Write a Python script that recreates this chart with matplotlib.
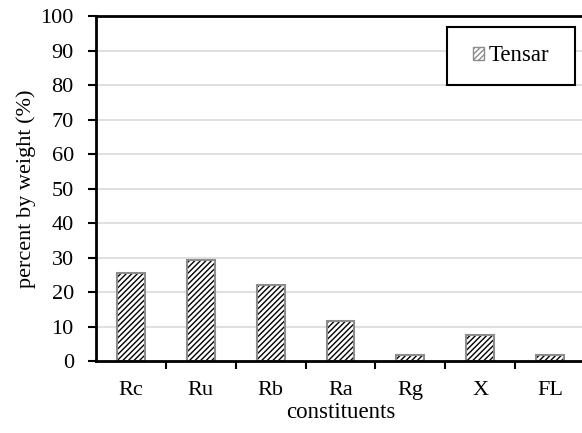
import matplotlib.pyplot as plt
from matplotlib.patches import Patch, Rectangle

categories = ["Rc", "Ru", "Rb", "Ra", "Rg", "X", "FL"]
tensar = [25.4, 29.2, 22.0, 11.7, 1.8, 7.5, 1.8]
yticks = list(range(0, 101, 10))

plt.rcParams["font.family"] = ["Liberation Serif", "DejaVu Serif"]
plt.rcParams["hatch.linewidth"] = 1.0

fig = plt.figure(figsize=(5.82, 4.33), dpi=100)
ax = fig.add_axes([0.165, 0.166, 0.84, 0.797])

x = list(range(len(categories)))
# hatch in black, outline in grey drawn separately
ax.bar(x, tensar, width=0.4, color="white", edgecolor="black", hatch="//////", linewidth=0, zorder=2)
ax.bar(x, tensar, width=0.4, fill=False, edgecolor="#8c8c8c", linewidth=1.5, zorder=3)

ax.set_xlim(-0.5, 6.5)
ax.set_ylim(0, 100)
ax.set_yticks(yticks)
ax.set_xticks(x)
ax.set_xticklabels(categories)
ax.set_xticks([i + 0.5 for i in range(len(categories) - 1)], minor=True)
ax.tick_params(axis="x", which="major", length=0, pad=14, labelsize=16)
ax.tick_params(axis="x", which="minor", length=6, width=1.5, direction="out")
ax.tick_params(axis="y", length=6, width=1.5, direction="out", labelsize=16, pad=10)

for v in yticks[1:-1]:
    ax.axhline(v, color="#d9d9d9", linewidth=1.2, zorder=0)

ax.spines["right"].set_visible(False)
for s in ["left", "bottom", "top"]:
    ax.spines[s].set_linewidth(2)
ax.spines["bottom"].set_zorder(4)

ax.set_ylabel("percent by weight (%)", fontsize=16, labelpad=3)
ax.set_xlabel("constituents", fontsize=16.5, labelpad=2)

# legend box drawn separately so it can be wider than the text
box = Rectangle((0.768, 0.804), 0.22, 0.134, transform=fig.transFigure,
                facecolor="white", edgecolor="black", linewidth=1.5, zorder=5, clip_on=False)
ax.add_patch(box)
handle = Patch(facecolor="white", edgecolor="#8c8c8c", hatch="//////", linewidth=1)
leg = ax.legend([handle], ["Tensar"], loc="center", bbox_to_anchor=(0.878, 0.871),
                bbox_transform=fig.transFigure, frameon=False,
                fontsize=16.5, handlelength=0.5, handleheight=0.5, handletextpad=0.2)
leg.set_zorder(6)

fig.savefig("out.png")
